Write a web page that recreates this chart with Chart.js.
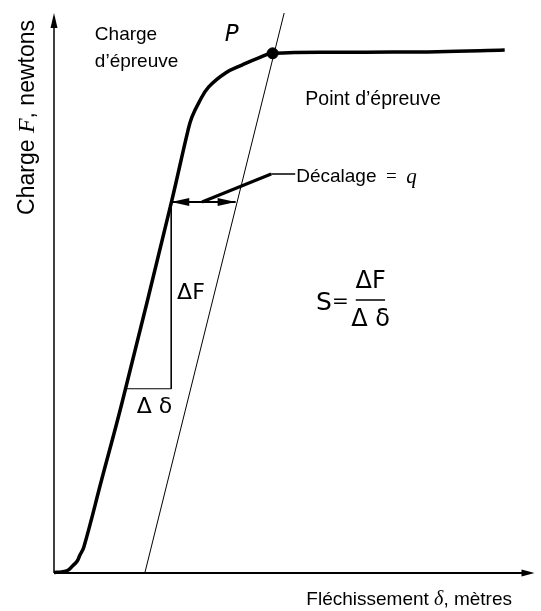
<!DOCTYPE html>
<html>
<head>
<meta charset="utf-8">
<script src="https://cdn.jsdelivr.net/npm/chart.js@4.4.1/dist/chart.umd.min.js"></script>
<style>
  body { margin: 0; background: #fff; }
  #wrap { width: 541px; height: 611px; }
</style>
</head>
<body>
<div id="wrap"><canvas id="Mychart" width="541" height="611"></canvas></div>
<script>
// courbe charge / flechissement (unites arbitraires 0..100)
const flechissement = [0, 1.6, 2.9, 3.9, 4.8, 5.4, 6.2, 9.9, 14.3, 24.4, 27.9, 28.7, 30.2, 32.2, 35.7, 39.1, 42.6, 45.5, 63.2, 79.8, 93.8];
const charge = [0.1, 0.2, 0.5, 1.3, 2.1, 3.2, 4.6, 16.6, 30.9, 66.1, 79.1, 81.4, 84.1, 86.8, 89.3, 90.7, 92.0, 92.8, 93.0, 93.1, 93.4];

// droite decalee (parallele a la partie elastique)
const decaleX = [18.9, 47.9];
const decaleY = [0, 100];

// point d'epreuve
const pointX = [45.5];
const pointY = [92.8];

// fleche de decalage q
const decalageX = [24.4, 37.8];
const decalageY = [66.25, 66.25];

// triangle deltaF / delta delta
const triangleX = [24.4, 24.4, 15.1];
const triangleY = [66.25, 32.9, 32.9];

// trait de rappel vers "Decalage = q"
const rappelX = [30.8, 45.2, 50.2];
const rappelY = [66.25, 71.25, 71.25];

function pts(xs, ys) {
  return xs.map(function(x, i){ return {x: x, y: ys[i]}; });
}

const SANS = '"Liberation Sans", Arial, sans-serif';
const SERIF = '"Liberation Serif", "Times New Roman", serif';
const GEO = '"DejaVu Sans", sans-serif';

// textes: position en unites du graphique
const notes = [
  {parts: [['Charge', '19px ' + SANS]], x: 8.5, y: 96.1, align: 'left'},
  {parts: [['d\u2019\u00e9preuve', '19px ' + SANS]], x: 8.5, y: 91.3, align: 'left'},
  {parts: [['P', 'italic 23px ' + GEO]], x: 37.0, y: 96.1, align: 'center'},
  {parts: [['Point d\u2019\u00e9preuve', '19.5px ' + SANS]], x: 52.3, y: 84.5, align: 'left'},
  {parts: [['D\u00e9calage', '19px ' + SANS], ['  =  ', '19px ' + SERIF], ['q', 'italic 21px ' + SERIF]], x: 50.4, y: 70.7, align: 'left'},
  {parts: [['\u0394F', '22px ' + GEO]], x: 28.5, y: 50.0, align: 'center'},
  {parts: [['\u0394 \u03b4', '22px ' + GEO]], x: 20.9, y: 29.6, align: 'center'},
  {parts: [['S', '25px ' + GEO]], x: 56.2, y: 48.2, align: 'center'},
  {parts: [['=', '20px ' + GEO]], x: 59.6, y: 48.4, align: 'center'},
  {parts: [['\u0394F', '24px ' + GEO]], x: 65.9, y: 52.0, align: 'center'},
  {parts: [['\u0394 \u03b4', '24px ' + GEO]], x: 65.9, y: 45.2, align: 'center'}
];

function drawRich(ctx, parts, x, y, align) {
  var w = 0;
  parts.forEach(function(p){ ctx.font = p[1]; w += ctx.measureText(p[0]).width; });
  var cx = x;
  if (align === 'center') cx = x - w / 2;
  if (align === 'right') cx = x - w;
  ctx.textAlign = 'left';
  ctx.textBaseline = 'middle';
  parts.forEach(function(p){
    ctx.font = p[1];
    ctx.fillText(p[0], cx, y);
    cx += ctx.measureText(p[0]).width;
  });
}

function arrow(ctx, tipX, tipY, dx, dy, len, half) {
  // dx,dy : direction de la pointe
  var bx = tipX - dx * len, by = tipY - dy * len;
  ctx.beginPath();
  ctx.moveTo(tipX, tipY);
  ctx.lineTo(bx - dy * half, by + dx * half);
  ctx.lineTo(bx + dy * half, by - dx * half);
  ctx.closePath();
  ctx.fill();
}

const annotations = {
  id: 'annotations',
  afterDatasetsDraw: function(chart) {
    var ctx = chart.ctx;
    var xs = chart.scales.x, ys = chart.scales.y;
    ctx.save();
    ctx.fillStyle = '#000';
    ctx.strokeStyle = '#000';

    // axes
    var x0 = xs.getPixelForValue(0), y0 = ys.getPixelForValue(0);
    var xEnd = xs.getPixelForValue(100), yEnd = ys.getPixelForValue(100);
    ctx.lineWidth = 2;
    ctx.beginPath(); ctx.moveTo(x0, y0); ctx.lineTo(xEnd - 8, y0); ctx.stroke();
    ctx.lineWidth = 1.5;
    ctx.beginPath(); ctx.moveTo(x0, y0); ctx.lineTo(x0, yEnd + 8); ctx.stroke();
    arrow(ctx, xEnd, y0, 1, 0, 13, 3.5);
    arrow(ctx, x0, yEnd, 0, -1, 15, 3.5);

    // pointes de la fleche de decalage
    var ay = ys.getPixelForValue(decalageY[0]);
    arrow(ctx, xs.getPixelForValue(decalageX[0]), ay, -1, 0, 18, 4);
    arrow(ctx, xs.getPixelForValue(decalageX[1]), ay, 1, 0, 18, 4);

    // trait de fraction
    ctx.lineWidth = 1.5;
    var fy = ys.getPixelForValue(48.75);
    ctx.beginPath();
    ctx.moveTo(xs.getPixelForValue(62.8), fy);
    ctx.lineTo(xs.getPixelForValue(68.9), fy);
    ctx.stroke();

    notes.forEach(function(n){
      drawRich(ctx, n.parts, xs.getPixelForValue(n.x), ys.getPixelForValue(n.y), n.align);
    });

    // titres des axes
    drawRich(ctx, [['Fl\u00e9chissement ', '19px ' + SANS], ['\u03b4', 'italic 20px ' + SERIF], [', m\u00e8tres', '19px ' + SANS]], 512, 600, 'right');
    ctx.translate(28, 20);
    ctx.rotate(-Math.PI / 2);
    drawRich(ctx, [['Charge ', '23px ' + SANS], ['F', 'italic 24px ' + SERIF], [', newtons', '23px ' + SANS]], 0, 0, 'right');
    ctx.restore();
  }
};

const ctx = document.getElementById('Mychart');
var chart = new Chart(ctx, {
  type: 'scatter',
  data: {
    datasets: [{
      label: 'Charge',
      data: pts(flechissement, charge),
      showLine: true,
      borderColor: '#000',
      borderWidth: 3.5,
      tension: 0.4,
      pointRadius: 0,
      clip: false
    }, {
      label: 'Decalee',
      data: pts(decaleX, decaleY),
      showLine: true,
      borderColor: '#000',
      borderWidth: 1,
      pointRadius: 0,
      clip: false
    }, {
      label: 'Decalage',
      data: pts(decalageX, decalageY),
      showLine: true,
      borderColor: '#000',
      borderWidth: 2,
      pointRadius: 0
    }, {
      label: 'Triangle',
      data: pts(triangleX, triangleY),
      showLine: true,
      borderColor: '#000',
      borderWidth: 1,
      pointRadius: 0
    }, {
      label: 'Rappel',
      data: pts(rappelX.slice(0, 2), rappelY.slice(0, 2)),
      showLine: true,
      borderColor: '#000',
      borderWidth: 3,
      pointRadius: 0
    }, {
      label: 'Rappel2',
      data: pts(rappelX.slice(1), rappelY.slice(1)),
      showLine: true,
      borderColor: '#000',
      borderWidth: 1.5,
      pointRadius: 0
    }, {
      label: 'Point',
      data: pts(pointX, pointY),
      pointRadius: 5.5,
      pointBackgroundColor: '#000',
      pointBorderColor: '#000'
    }]
  },
  options: {
    responsive: false,
    animation: false,
    layout: { padding: { left: 54, right: 3, top: 13, bottom: 38 } },
    plugins: { legend: { display: false }, tooltip: { enabled: false } },
    scales: {
      x: { type: 'linear', min: 0, max: 100, display: false },
      y: { type: 'linear', min: 0, max: 100, display: false }
    }
  },
  plugins: [annotations]
});
</script>
</body>
</html>
